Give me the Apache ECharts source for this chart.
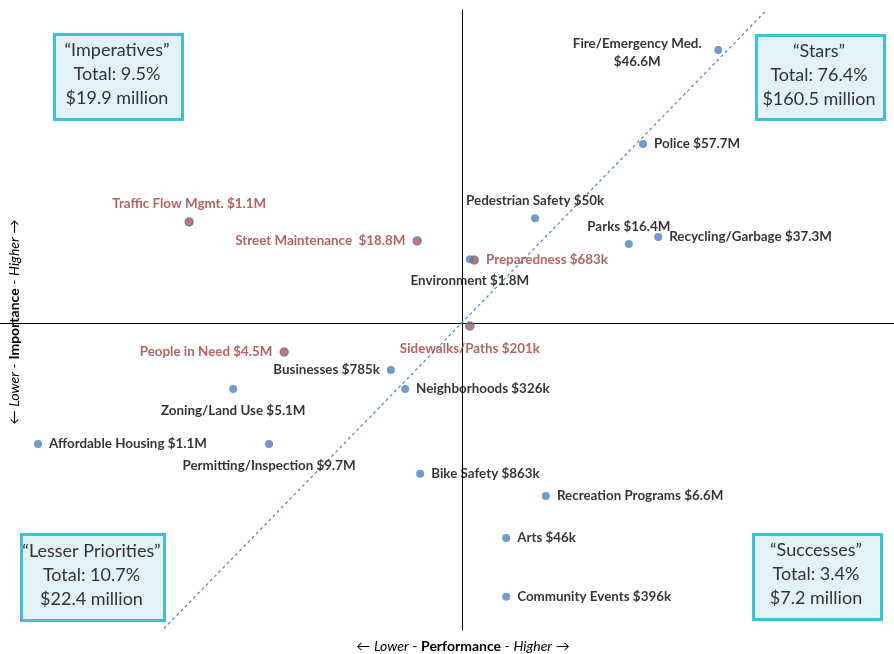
<!DOCTYPE html>
<html><head><meta charset="utf-8">
<script src="https://cdn.jsdelivr.net/npm/echarts@6/dist/echarts.min.js"></script>
<style>html,body{margin:0;padding:0;background:#fff}#c{width:894px;height:654px}</style>
</head><body><div id="c"></div>
<script>
// Performance (x) and importance (y) scores, axes cross at 0
const names = ["Fire/Emergency Med.\n$46.6M","Police $57.7M","Pedestrian Safety $50k","Parks $16.4M","Recycling/Garbage $37.3M","Environment $1.8M","Preparedness $683k","Traffic Flow Mgmt. $1.1M","Street Maintenance  $18.8M","Sidewalks/Paths $201k","People in Need $4.5M","Businesses $785k","Neighborhoods $326k","Zoning/Land Use $5.1M","Affordable Housing $1.1M","Permitting/Inspection $9.7M","Bike Safety $863k","Recreation Programs $6.6M","Arts $46k","Community Events $396k"];
const performance = [5.93,4.19,1.69,3.86,4.54,0.18,0.28,-6.32,-1.04,0.18,-4.12,-1.65,-1.32,-5.30,-9.82,-4.47,-0.97,1.94,1.02,1.02];
const importance = [8.72,5.72,3.35,2.52,2.75,2.04,2.01,3.23,2.62,-0.10,-0.93,-1.50,-2.11,-2.11,-3.87,-3.87,-4.82,-5.53,-6.87,-8.75];
const flagged = [false,false,false,false,false,false,true,true,true,true,true,false,false,false,false,false,false,false,false,false];
const labelSide = ["left","right","top","top","right","bottom","right","top","left","bottom","left","left","right","bottom","right","bottom","right","right","right","right"];
const trendX = [-7.0,7.05];
const trendY = [-9.9,10.0];
const quadrants = [
  {title:"\u201cImperatives\u201d", total:"Total: 9.5%", amount:"$19.9 million"},
  {title:"\u201cStars\u201d", total:"Total: 76.4%", amount:"$160.5 million"},
  {title:"\u201cLesser Priorities\u201d", total:"Total: 10.7%", amount:"$22.4 million"},
  {title:"\u201cSuccesses\u201d", total:"Total: 3.4%", amount:"$7.2 million"}
];

const BLUE = "#4F81BD", RED = "#C0504D", REDTXT = "#A23B3B";
const FONT = "Lato, 'Liberation Sans', sans-serif";

const pts = names.map((n,i)=>{
  const side = labelSide[i];
  const lab = {show:true, position:side, distance: side==="bottom"?9:(side==="top"?4:7),
    formatter:n, color: flagged[i]?REDTXT:"#000", fontFamily:FONT, fontWeight:"bold", fontSize:13.4, lineHeight:18};
  if (i===0){ lab.align="center"; lab.offset=[-70,3]; }
  return {value:[performance[i], importance[i]],
    itemStyle:{color: flagged[i]?RED:BLUE, borderColor:BLUE, borderWidth: flagged[i]?1.5:0},
    label:lab};
});

const boxes = [
  {x:53,y:33,w:128,h:85},
  {x:755,y:34,w:128,h:84},
  {x:20,y:533,w:143,h:86},
  {x:752,y:533,w:128,h:85}
];
const graphics = [];
quadrants.forEach((q,i)=>{
  const b = boxes[i];
  graphics.push({type:'rect', left:b.x, top:b.y, shape:{width:b.w,height:b.h},
    style:{fill:'#E2F2F8', stroke:'#3EC0DA', lineWidth:3}, z:10});
  graphics.push({type:'text', x:b.x+b.w/2, y:b.y+b.h/2-1, z:11,
    style:{text:q.title+"\n"+q.total+"\n"+q.amount, textAlign:'center', textVerticalAlign:'middle',
      fontFamily:"Lato, sans-serif", fontSize:18, lineHeight:24, fill:'#333'}});
});
const axRich = {n:{fontFamily:FONT,fontSize:14,fill:'#000'}, i:{fontFamily:FONT,fontSize:14,fontStyle:'italic',fill:'#000'}, b:{fontFamily:FONT,fontSize:14,fontWeight:'bold',fill:'#000'}};
graphics.push({type:'text', x:463, y:646, z:11,
  style:{text:"{n|\u2190 }{i|Lower}{n| - }{b|Performance}{n| - }{i|Higher}{n| \u2192}", textAlign:'center', textVerticalAlign:'middle', rich:axRich}});
graphics.push({type:'text', x:14, y:322, rotation:Math.PI/2, z:11,
  style:{text:"{n|\u2190 }{i|Lower}{n| - }{b|Importance}{n| - }{i|Higher}{n| \u2192}", textAlign:'center', textVerticalAlign:'middle', rich:axRich}});

const chart = echarts.init(document.getElementById('c'), null, {renderer:'canvas'});
chart.setOption({
  animation:false,
  grid:{left:0,right:0,top:10,bottom:24},
  xAxis:{type:'value', min:-10.7, max:10, axisLine:{onZero:true, lineStyle:{color:'#000',width:1}}, axisTick:{show:false}, axisLabel:{show:false}, splitLine:{show:false}},
  yAxis:{type:'value', min:-9.81, max:10, axisLine:{onZero:true, lineStyle:{color:'#000',width:1}}, axisTick:{show:false}, axisLabel:{show:false}, splitLine:{show:false}},
  graphic:graphics,
  series:[
    {type:'line', data:[[trendX[0],trendY[0]],[trendX[1],trendY[1]]], symbol:'none', lineStyle:{color:BLUE,width:1.2,type:[3,3]}, silent:true, z:1},
    {type:'scatter', symbolSize:8, data:pts, z:3}
  ]
});
</script></body></html>
